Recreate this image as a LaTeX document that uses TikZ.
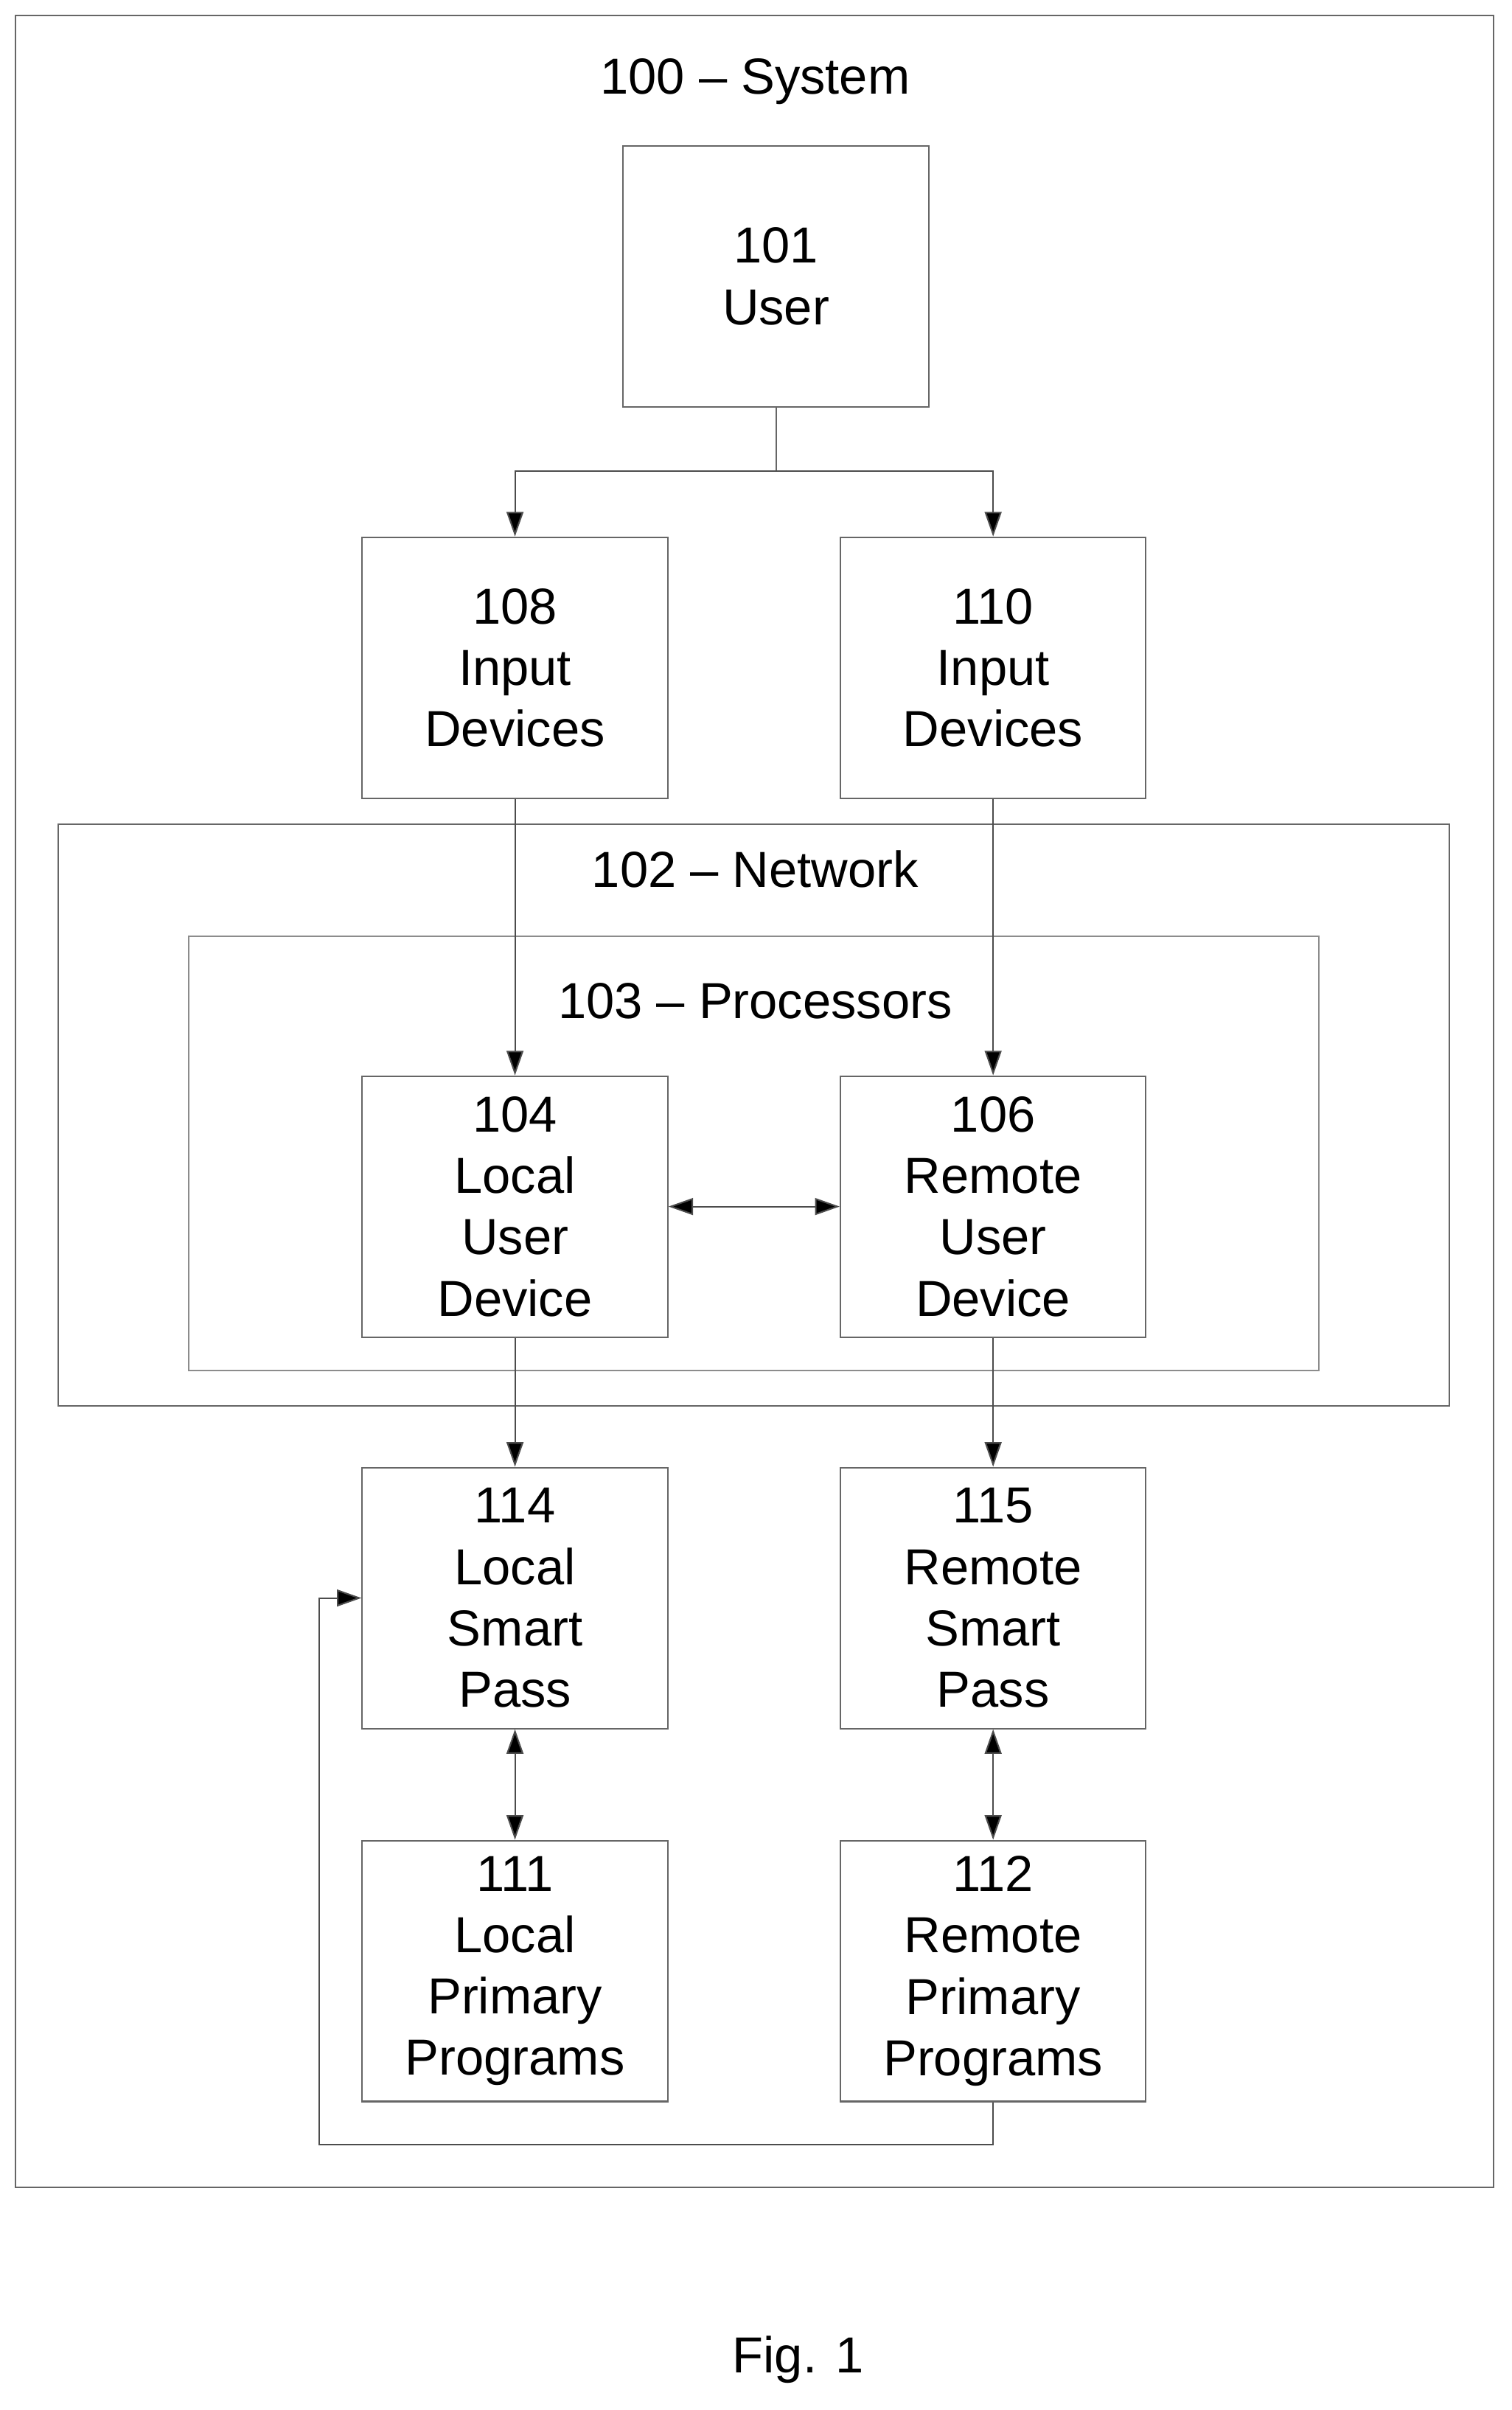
\documentclass[tikz,border=0pt]{standalone}
\usepackage{fontspec}
\setmainfont{Liberation Sans}
\usetikzlibrary{arrows.meta}
\begin{document}
\begin{tikzpicture}[x=1pt,y=-1pt,
  box/.style={draw=black!60,line width=1pt},
  lbl/.style={font=\fontsize{33}{40}\selectfont,align=center,inner sep=0},
  box6/.style={draw=black!60,line width=1pt,minimum width=199pt,minimum height=170pt,inner sep=0,font=\fontsize{33}{40}\selectfont,align=center},
  ar/.style={draw=black!70,line width=1pt,-{Triangle[length=16pt,width=11pt,fill=black]}},
  dar/.style={draw=black!70,line width=1pt,{Triangle[length=16pt,width=11pt,fill=black]}-{Triangle[length=16pt,width=11pt,fill=black]}}]
\useasboundingbox (0,0) rectangle (985,1570);
\draw[box] (10,10) rectangle (973,1425);
\node[lbl] (t100) at (492,53) {100 -- System};
\node[box6] (u) at (505.5,180) {101\\User};
\node[box6] (b108) at (335.5,435) {108\\Input\\Devices};
\node[box6] (b110) at (647,435) {110\\Input\\Devices};
\draw[box] (38,537) rectangle (944,916);
\node[lbl] (t102) at (492,566) {102 -- Network};
\draw[box,draw=black!45] (123,610) rectangle (859,893);
\node[lbl] (t103) at (492,652) {103 -- Processors};
\node[box6] (b104) at (335.5,786) {104\\Local\\User\\Device};
\node[box6] (b106) at (647,786) {106\\Remote\\User\\Device};
\node[box6] (b114) at (335.5,1041) {114\\Local\\Smart\\Pass};
\node[box6] (b115) at (647,1041) {115\\Remote\\Smart\\Pass};
\node[box6] (b111) at (335.5,1284) {111\\Local\\Primary\\Programs};
\node[box6] (b112) at (647,1284) {112\\Remote\\Primary\\Programs};
\coordinate (s) at (505.5,307);
\draw[black!60,line width=1pt] (u.south) -- (s);
\draw[ar] (s) -| (b108.north);
\draw[ar] (s) -| (b110.north);
\draw[ar] (b108.south) -- (b104.north);
\draw[ar] (b110.south) -- (b106.north);
\draw[dar] (b104.east) -- (b106.west);
\draw[ar] (b104.south) -- (b114.north);
\draw[ar] (b106.south) -- (b115.north);
\draw[dar] (b114.south) -- (b111.north);
\draw[dar] (b115.south) -- (b112.north);
\coordinate (c1) at (647,1397);
\coordinate (c2) at (208,1397);
\coordinate (c3) at (208,1041);
\draw[ar] (b112.south) -- (c1) -- (c2) -- (c3) -- (b114.west);
\node[lbl] (fig) at (520,1537) {Fig. 1};
\end{tikzpicture}
\end{document}
